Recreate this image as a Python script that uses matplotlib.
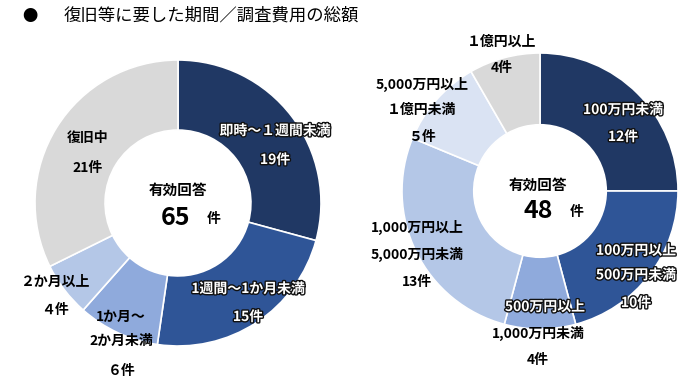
import matplotlib
matplotlib.use("Agg")
import matplotlib.pyplot as plt
import matplotlib.patheffects as pe

plt.rcParams['font.family'] = ['Noto Sans CJK JP', 'DejaVu Sans']

W, H = 697, 382

# Left chart: recovery period
left_labels = ["即時～１週間未満", "1週間～1か月未満", "1か月～\n2か月未満", "２か月以上", "復旧中"]
left_values = [19, 15, 6, 4, 21]
left_counts = ["19件", "15件", "６件", "４件", "21件"]
left_colors = ["#203864", "#2F5597", "#8FAADC", "#B4C7E7", "#D9D9D9"]
left_total = 65

# Right chart: investigation cost
right_labels = ["100万円未満", "100万円以上\n500万円未満", "500万円以上\n1,000万円未満",
                "1,000万円以上\n5,000万円未満", "5,000万円以上\n１億円未満", "１億円以上"]
right_values = [12, 10, 4, 13, 5, 4]
right_counts = ["12件", "10件", "4件", "13件", "５件", "4件"]
right_colors = ["#203864", "#2F5597", "#8FAADC", "#B4C7E7", "#DAE3F3", "#D9D9D9"]
right_total = 48

fig = plt.figure(figsize=(W / 100, H / 100), dpi=100)


def make_axes(cx, cy, r):
    ax = fig.add_axes([(cx - r) / W, (H - cy - r) / H, 2 * r / W, 2 * r / H])
    return ax


def draw(ax, values, colors, hole):
    ax.pie(values, colors=colors, startangle=90, counterclock=False, radius=1,
           wedgeprops=dict(width=1 - hole, edgecolor="white", linewidth=1.2))
    ax.set_xlim(-1, 1)
    ax.set_ylim(-1, 1)
    ax.set_aspect("equal")
    ax.axis("off")


outline = [pe.withStroke(linewidth=2.0, foreground="#111111")]


def put(ax, cx, cy, r, px, py, s, white=False, size=10, **kw):
    x = (px - cx) / r
    y = (cy - py) / r
    t = ax.text(x, y, s, ha="center", va="center", fontsize=size, fontweight="bold",
                color="white" if white else "black", linespacing=1.95, **kw)
    if white:
        t.set_path_effects(outline)
    return t


# ---- Left
lcx, lcy, lr = 178, 203, 143
axl = make_axes(lcx, lcy, lr)
draw(axl, left_values, left_colors, 0.51)
put(axl, lcx, lcy, lr, 275, 131, left_labels[0], white=True)
put(axl, lcx, lcy, lr, 275, 160, left_counts[0], white=True)
put(axl, lcx, lcy, lr, 248, 289, left_labels[1], white=True)
put(axl, lcx, lcy, lr, 248, 317, left_counts[1], white=True)
put(axl, lcx, lcy, lr, 121, 329, left_labels[2])
put(axl, lcx, lcy, lr, 122, 371, left_counts[2])
put(axl, lcx, lcy, lr, 55, 282, left_labels[3])
put(axl, lcx, lcy, lr, 55, 310, left_counts[3])
put(axl, lcx, lcy, lr, 88, 138, left_labels[4])
put(axl, lcx, lcy, lr, 88, 168, left_counts[4])
put(axl, lcx, lcy, lr, 178, 190, "有効回答", size=10.5)
put(axl, lcx, lcy, lr, 176, 218, str(left_total), size=18)
put(axl, lcx, lcy, lr, 214, 219, "件", size=10)

# ---- Right
rcx, rcy, rr = 540, 191, 138
axr = make_axes(rcx, rcy, rr)
draw(axr, right_values, right_colors, 0.48)
put(axr, rcx, rcy, rr, 623, 110, right_labels[0], white=True)
put(axr, rcx, rcy, rr, 623, 137, right_counts[0], white=True)
put(axr, rcx, rcy, rr, 636, 263, right_labels[1], white=True)
put(axr, rcx, rcy, rr, 636, 303, right_counts[1], white=True)
put(axr, rcx, rcy, rr, 545, 307, right_labels[2].split("\n")[0], white=True)
put(axr, rcx, rcy, rr, 538, 333, right_labels[2].split("\n")[1])
put(axr, rcx, rcy, rr, 538, 360, right_counts[2])
put(axr, rcx, rcy, rr, 417, 241, right_labels[3])
put(axr, rcx, rcy, rr, 417, 282, right_counts[3])
put(axr, rcx, rcy, rr, 422, 97, right_labels[4])
put(axr, rcx, rcy, rr, 422, 137, right_counts[4])
put(axr, rcx, rcy, rr, 502, 42, right_labels[5])
put(axr, rcx, rcy, rr, 502, 68, right_counts[5])
put(axr, rcx, rcy, rr, 538, 185, "有効回答", size=10.5)
put(axr, rcx, rcy, rr, 538, 211, str(right_total), size=18)
put(axr, rcx, rcy, rr, 577, 212, "件", size=10)

# Title
fig.text(30 / W, 1 - 16 / H, "●", fontsize=11, va="center", ha="center", color="black")
fig.text(64 / W, 1 - 16 / H, "復旧等に要した期間／調査費用の総額", fontsize=12.5,
         va="center", ha="left", color="black")

fig.savefig("out.png", dpi=100)
